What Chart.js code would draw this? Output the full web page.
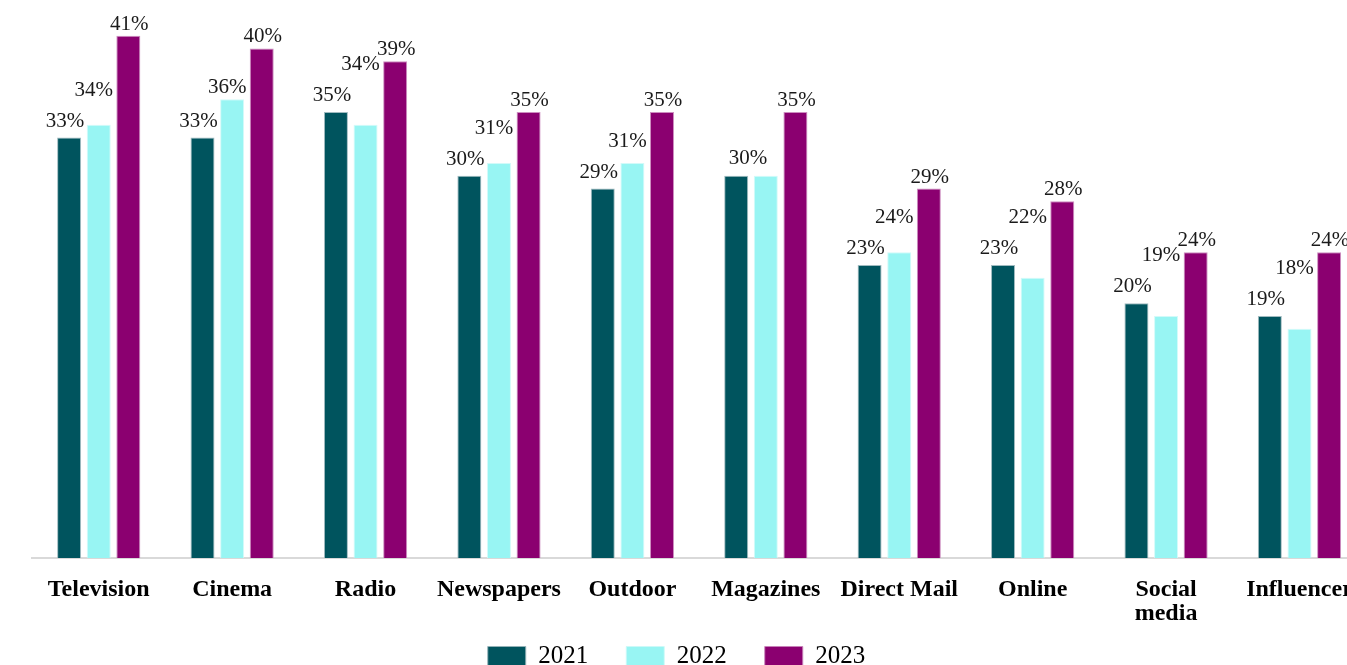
<!DOCTYPE html>
<html>
<head>
<meta charset="utf-8">
<script src="https://cdn.jsdelivr.net/npm/chart.js@4"></script>
<style>
  html, body { margin: 0; padding: 0; background: #fff; overflow: hidden; }
  #wrap { position: relative; width: 1373px; height: 719px; }
</style>
</head>
<body>
<div id="wrap"><canvas id="mediaTrustChart"></canvas></div>
<script>
/* categories and values, per year */
const categories = ['Television', 'Cinema', 'Radio', 'Newspapers', 'Outdoor', 'Magazines', 'Direct Mail', 'Online', ['Social', 'media'], 'Influencer'];
const share2021 = [33, 33, 35, 30, 29, 30, 23, 23, 20, 19];
const share2022 = [34, 36, 34, 31, 31, 30, 24, 22, 19, 18];
const share2023 = [41, 40, 39, 35, 35, 35, 29, 28, 24, 24];
const years = ['2021', '2022', '2023'];

/* value labels above the bars */
const valueLabels = {
  id: 'valueLabels',
  afterDatasetsDraw(chart) {
    const ctx = chart.ctx;
    const m0 = chart.getDatasetMeta(0), m1 = chart.getDatasetMeta(1), m2 = chart.getDatasetMeta(2);
    ctx.save();
    ctx.font = '21px "Liberation Serif"';
    ctx.fillStyle = '#1a1a1a';
    ctx.textAlign = 'center';
    ctx.textBaseline = 'alphabetic';
    for (let i = 0; i < categories.length; i++) {
      const b0 = m0.data[i], b1 = m1.data[i], b2 = m2.data[i];
      const y0 = b0.y - 11;
      if (share2021[i] === share2022[i]) {
        // same value: one label shared by both bars
        ctx.fillText(share2021[i] + '%', (b0.x + b1.x) / 2 - 3, b0.y - 12);
      } else {
        ctx.fillText(share2021[i] + '%', b0.x - 4, y0);
        ctx.fillText(share2022[i] + '%', b1.x - 5, Math.min(b1.y - 6, y0 - 31));
      }
      ctx.fillText(share2023[i] + '%', b2.x + 1, b2.y - 6);
    }
    ctx.restore();
  }
};

/* legend is centred on the visible page, not the wider canvas, and sits higher */
const legendShift = {
  id: 'legendShift',
  beforeDraw(chart) {
    chart.legend.left -= 24;
    chart.legend.right -= 24;
    chart.legend.top -= 40;
    chart.legend.bottom -= 40;
  }
};

const ctx = document.getElementById('mediaTrustChart').getContext('2d');
const mediaTrustChart = new Chart(ctx, {
  type: 'bar',
  data: {
    labels: categories,
    datasets: [{
      label: years[0],
      data: share2021,
      backgroundColor: '#00545e',
      borderColor: 'rgba(150, 180, 185, 0.9)',
      borderWidth: 1
    }, {
      label: years[1],
      data: share2022,
      backgroundColor: '#98f5f3',
      borderColor: 'rgba(205, 250, 248, 0.9)',
      borderWidth: 1
    }, {
      label: years[2],
      data: share2023,
      backgroundColor: '#8b0070',
      borderColor: 'rgba(200, 130, 185, 0.9)',
      borderWidth: 1
    }]
  },
  options: {
    responsive: true,
    maintainAspectRatio: false,
    animation: false,
    categoryPercentage: 0.666,
    barPercentage: 0.81,
    layout: {
      padding: { left: 32, right: 4, top: 0, bottom: 0 }
    },
    plugins: {
      legend: {
        position: 'bottom',
        labels: {
          boxWidth: 38,
          boxHeight: 20,
          padding: 38,
          color: '#000',
          font: { family: '"Liberation Serif"', size: 25 }
        }
      },
      tooltip: { enabled: false }
    },
    scales: {
      x: {
        grid: { display: false, drawTicks: false },
        border: { display: true, color: '#d9d9d9', width: 2 },
        ticks: {
          color: '#000',
          padding: 20,
          maxRotation: 0,
          autoSkip: false,
          font: { family: '"Liberation Serif"', size: 24, weight: 'bold', lineHeight: 1 }
        }
      },
      y: {
        display: false,
        min: 0,
        max: 43.8
      }
    }
  },
  plugins: [valueLabels, legendShift]
});
</script>
</body>
</html>
